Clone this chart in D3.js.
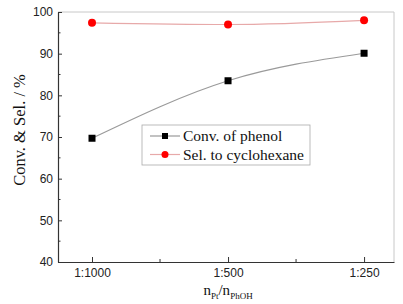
<!DOCTYPE html>
<html>
<head>
<meta charset="utf-8">
<script src="https://cdn.jsdelivr.net/npm/d3@7"></script>
<style>
    body { margin: 0; background: #fff; }
    svg { display: block; }
</style>
</head>
<body>
<div id="chart"></div>
<script>
// данные графика
const categories = ['1:1000', '1:500', '1:250']
const convPhenol = [69.7, 83.5, 90.1]
const selCyclohexane = [97.4, 97.0, 98.0]
const yTicks = [40, 50, 60, 70, 80, 90, 100]
const legendLabels = ['Conv. of phenol', 'Sel. to cyclohexane']

const width = 403
const height = 304
const mLeft = 58, mRight = 394, mTop = 12, mBottom = 262

const svg = d3.select('#chart').append('svg')
    .attr('width', width)
    .attr('height', height)

// шкалы
const x = d3.scaleLinear()
    .domain([-0.25, categories.length - 1 + 0.22])
    .range([mLeft, mRight])
const y = d3.scaleLinear()
    .domain([40, 100])
    .range([mBottom, mTop])

// рамка сверху и справа
svg.append('path')
    .attr('d', `M${mLeft},${mTop}H${mRight}V${mBottom}`)
    .attr('fill', 'none')
    .attr('stroke', '#c8c8c8')
    .attr('stroke-width', 1)

// ось y
const yAxis = svg.append('g')
    .attr('transform', `translate(${mLeft},0)`)
    .call(d3.axisLeft(y).tickValues(yTicks).tickSize(0).tickPadding(5))
yAxis.select('.domain').attr('stroke', '#333').attr('stroke-width', 1.2)
yAxis.selectAll('text')
    .attr('font-family', 'Liberation Sans, Arial, sans-serif')
    .attr('font-size', 12)
    .attr('fill', '#222')
// тики внутрь
yAxis.selectAll('.tick line').remove()
yAxis.selectAll('.tick').append('line')
    .attr('x1', 0).attr('x2', 4)
    .attr('stroke', '#333')
const yMinor = d3.range(45, 100, 10)
svg.append('g').selectAll('line')
    .data(yMinor)
    .join('line')
    .attr('x1', mLeft).attr('x2', mLeft + 2.5)
    .attr('y1', d => y(d)).attr('y2', d => y(d))
    .attr('stroke', '#333')

// ось x
const xAxis = svg.append('g')
    .attr('transform', `translate(0,${mBottom})`)
    .call(d3.axisBottom(x)
        .tickValues(d3.range(categories.length))
        .tickFormat(i => categories[i])
        .tickSize(0).tickPadding(6))
xAxis.select('.domain').attr('stroke', '#333').attr('stroke-width', 1.2)
xAxis.selectAll('text')
    .attr('font-family', 'Liberation Sans, Arial, sans-serif')
    .attr('font-size', 12)
    .attr('fill', '#222')
xAxis.selectAll('.tick line').remove()
xAxis.selectAll('.tick').append('line')
    .attr('y1', 0).attr('y2', -5)
    .attr('stroke', '#333')
svg.append('g').selectAll('line')
    .data([0.5, 1.5])
    .join('line')
    .attr('x1', d => x(d)).attr('x2', d => x(d))
    .attr('y1', mBottom).attr('y2', mBottom - 3)
    .attr('stroke', '#333')

// линии
const line = d3.line()
    .x((d, i) => x(i))
    .y(d => y(d))
    .curve(d3.curveMonotoneX)

svg.append('path')
    .datum(convPhenol)
    .attr('fill', 'none')
    .attr('stroke', '#9a9a9a')
    .attr('stroke-width', 1.2)
    .attr('d', line)

svg.append('path')
    .datum(selCyclohexane)
    .attr('fill', 'none')
    .attr('stroke', '#e7a9a9')
    .attr('stroke-width', 1.2)
    .attr('d', line)

// маркеры
svg.append('g').selectAll('rect')
    .data(convPhenol)
    .join('rect')
    .attr('x', (d, i) => x(i) - 3.5)
    .attr('y', d => y(d) - 3.5)
    .attr('width', 7)
    .attr('height', 7)
    .attr('fill', '#000')

svg.append('g').selectAll('circle')
    .data(selCyclohexane)
    .join('circle')
    .attr('cx', (d, i) => x(i))
    .attr('cy', d => y(d))
    .attr('r', 4)
    .attr('fill', '#f00')

// легенда
const legend = svg.append('g').attr('transform', 'translate(142,125)')
legend.append('rect')
    .attr('width', 168)
    .attr('height', 40)
    .attr('fill', '#fff')
    .attr('stroke', '#aaa')
    .attr('stroke-width', 0.8)

const legendColors = [{ line: '#9a9a9a', mark: 'rect' }, { line: '#e7a9a9', mark: 'circle' }]
legendLabels.forEach((label, i) => {
    const row = legend.append('g').attr('transform', `translate(0,${11 + i * 18.5})`)
    row.append('line')
        .attr('x1', 8).attr('x2', 38)
        .attr('stroke', legendColors[i].line)
        .attr('stroke-width', 1.2)
    if (legendColors[i].mark === 'rect') {
        row.append('rect')
            .attr('x', 23 - 3).attr('y', -3)
            .attr('width', 6).attr('height', 6)
            .attr('fill', '#000')
    } else {
        row.append('circle')
            .attr('cx', 23).attr('r', 3.5)
            .attr('fill', '#f00')
    }
    row.append('text')
        .attr('x', 41)
        .attr('y', 5)
        .attr('font-family', 'Liberation Serif, Times New Roman, serif')
        .attr('font-size', 15.5)
        .attr('fill', '#111')
        .text(label)
})

// подписи осей
svg.append('text')
    .attr('transform', `translate(25,${(mTop + mBottom) / 2 - 7}) rotate(-90)`)
    .attr('text-anchor', 'middle')
    .attr('font-family', 'Liberation Serif, Times New Roman, serif')
    .attr('font-size', 16.5)
    .attr('fill', '#111')
    .text('Conv. & Sel. / %')

const xTitle = svg.append('text')
    .attr('x', x(1))
    .attr('y', 295)
    .attr('text-anchor', 'middle')
    .attr('font-family', 'Liberation Serif, Times New Roman, serif')
    .attr('font-size', 15)
    .attr('fill', '#111')
xTitle.append('tspan').text('n')
xTitle.append('tspan').attr('font-size', 9).attr('dy', 4).text('Pt')
xTitle.append('tspan').attr('dy', -4).text('/n')
xTitle.append('tspan').attr('font-size', 9).attr('dy', 4).text('PhOH')
</script>
</body>
</html>
